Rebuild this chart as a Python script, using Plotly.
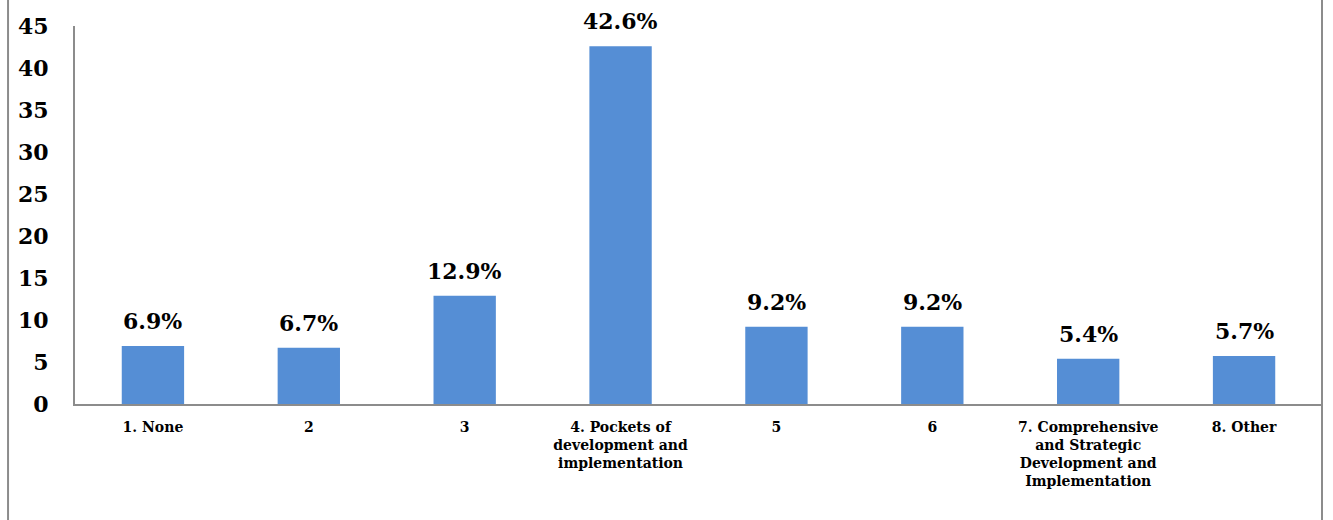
import plotly.graph_objects as go

categories = ["1. None", "2", "3", "4. Pockets of<br>development and<br>implementation", "5", "6",
              "7. Comprehensive<br>and Strategic<br>Development and<br>Implementation", "8. Other"]
values = [6.9, 6.7, 12.9, 42.6, 9.2, 9.2, 5.4, 5.7]
labels = [f"{v:.1f}%" for v in values]
y_ticks = list(range(0, 50, 5))

FONT = "DejaVu Serif"
xs = list(range(len(categories)))
fig = go.Figure(go.Bar(
    x=xs, y=values,
    marker=dict(color="#558ED5", line=dict(width=0)),
))

annotations = [
    dict(x=x, y=v, text=t, xref="x", yref="y", showarrow=False, yanchor="bottom",
         yshift=10, font=dict(family=FONT, size=22, color="#000000", weight="bold"))
    for x, v, t in zip(xs, values, labels)
]

fig.update_layout(
    width=1333, height=520,
    margin=dict(l=75, r=11, t=26, b=116),
    plot_bgcolor="white", paper_bgcolor="white",
    bargap=0.6, showlegend=False,
    font=dict(family=FONT, color="#000000"),
    annotations=annotations,
    xaxis=dict(
        tickmode="array", tickvals=xs, ticktext=categories,
        range=[-0.5, len(categories) - 0.5],
        showline=True, linecolor="#8c8c8c", linewidth=2, showgrid=False, zeroline=False,
        ticks="", tickangle=0, ticklabelstandoff=9,
        tickfont=dict(family=FONT, size=14, color="#000000", weight="bold"),
    ),
    yaxis=dict(
        range=[0, 45], tickvals=y_ticks, showline=True, linecolor="#8c8c8c", linewidth=2,
        showgrid=False, zeroline=False, ticks="", ticklabelstandoff=20,
        tickfont=dict(family=FONT, size=22, color="#000000", weight="bold"),
    ),
    shapes=[
        dict(type="line", xref="paper", yref="paper", x0=-0.0537, x1=-0.0537, y0=-0.4, y1=1.1,
             line=dict(color="#8c8c8c", width=2)),
        dict(type="line", xref="paper", yref="paper", x0=1.0, x1=1.0, y0=-0.4, y1=1.1,
             line=dict(color="#8c8c8c", width=2)),
    ],
)

fig.write_html("out.html")
